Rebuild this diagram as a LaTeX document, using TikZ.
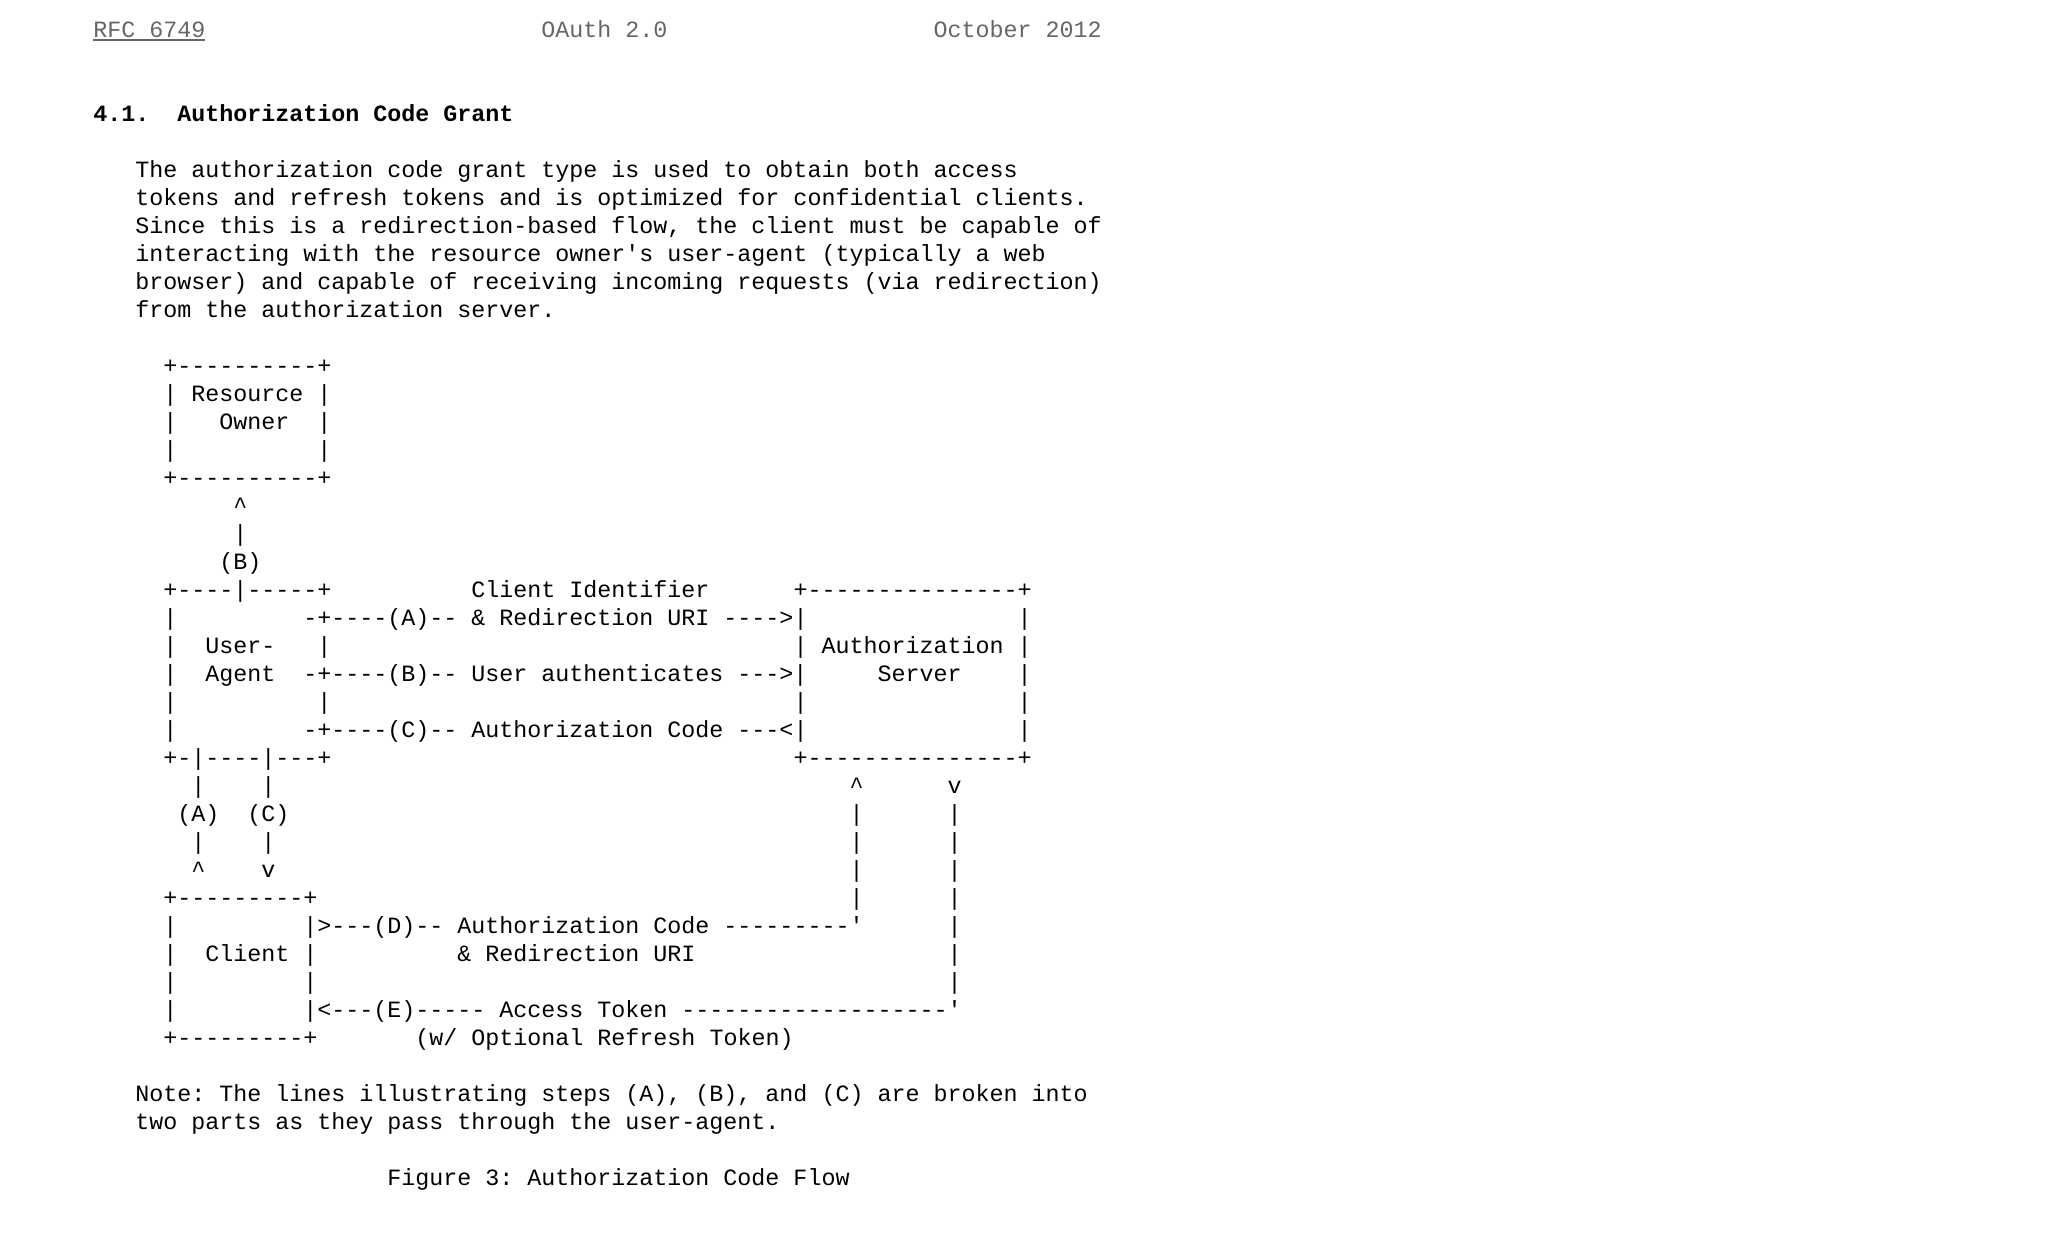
\documentclass[tikz,border=0pt]{standalone}
\usepackage{fontspec}
\setmonofont{Liberation Mono}
\definecolor{hdr}{RGB}{102,102,102}
\newcommand\body{\fontsize{11.67pt}{14pt}\selectfont\ttfamily\frenchspacing}
\newcommand\gap[1]{\hspace*{\dimexpr #1em*3/5\relax}}
\tikzset{
  txt/.style={anchor=base west, inner sep=0pt, outer sep=0pt, font=\body, text=black},
  hdrtxt/.style={txt, text=hdr},
  headtxt/.style={txt, font=\body\bfseries},
  uline/.style={draw=hdr, line width=1pt}
}
\begin{document}
\begin{tikzpicture}[x=7.002pt, y=-14pt]
\useasboundingbox (-46.65pt,18.65pt) rectangle (986.85pt,-609.35pt);
\fill[white] (-46.65pt,18.65pt) rectangle (986.85pt,-609.35pt);
% page header
\node[hdrtxt] (hrfc) at (0,0) {RFC 6749};
\node[hdrtxt] (hoauth) at (32,0) {OAuth 2.0};
\node[hdrtxt] (hdate) at (60,0) {October 2012};
\draw[uline] ([yshift=-1.35pt]hrfc.base west) -- ([yshift=-1.35pt]hrfc.base east);
% section heading
\node[headtxt] (l3) at (0,3) {4.1.\gap{2}Authorization Code Grant};
% paragraph
\node[txt] (l5) at (0,5) {\gap{3}The authorization code grant type is used to obtain both access};
\node[txt] (l6) at (0,6) {\gap{3}tokens and refresh tokens and is optimized for confidential clients.};
\node[txt] (l7) at (0,7) {\gap{3}Since this is a redirection-based flow, the client must be capable of};
\node[txt] (l8) at (0,8) {\gap{3}interacting with the resource owner's user-agent (typically a web};
\node[txt] (l9) at (0,9) {\gap{3}browser) and capable of receiving incoming requests (via redirection)};
\node[txt] (l10) at (0,10) {\gap{3}from the authorization server.};
% figure (ASCII art)
\node[txt] (l12) at (0,12) {\gap{5}+----------+};
\node[txt] (l13) at (0,13) {\gap{5}| Resource |};
\node[txt] (l14) at (0,14) {\gap{5}|\gap{3}Owner\gap{2}|};
\node[txt] (l15) at (0,15) {\gap{5}|\gap{10}|};
\node[txt] (l16) at (0,16) {\gap{5}+----------+};
\node[txt] (l17) at (0,17) {\gap{10}\textasciicircum};
\node[txt] (l18) at (0,18) {\gap{10}|};
\node[txt] (l19) at (0,19) {\gap{9}(B)};
\node[txt] (l20) at (0,20) {\gap{5}+----|-----+\gap{10}Client Identifier\gap{6}+---------------+};
\node[txt] (l21) at (0,21) {\gap{5}|\gap{9}-+----(A)-- \& Redirection URI ---->|\gap{15}|};
\node[txt] (l22) at (0,22) {\gap{5}|\gap{2}User-\gap{3}|\gap{33}| Authorization |};
\node[txt] (l23) at (0,23) {\gap{5}|\gap{2}Agent\gap{2}-+----(B)-- User authenticates --->|\gap{5}Server\gap{4}|};
\node[txt] (l24) at (0,24) {\gap{5}|\gap{10}|\gap{33}|\gap{15}|};
\node[txt] (l25) at (0,25) {\gap{5}|\gap{9}-+----(C)-- Authorization Code ---<|\gap{15}|};
\node[txt] (l26) at (0,26) {\gap{5}+-|----|---+\gap{33}+---------------+};
\node[txt] (l27) at (0,27) {\gap{7}|\gap{4}|\gap{41}\textasciicircum\gap{6}v};
\node[txt] (l28) at (0,28) {\gap{6}(A)\gap{2}(C)\gap{40}|\gap{6}|};
\node[txt] (l29) at (0,29) {\gap{7}|\gap{4}|\gap{41}|\gap{6}|};
\node[txt] (l30) at (0,30) {\gap{7}\textasciicircum\gap{4}v\gap{41}|\gap{6}|};
\node[txt] (l31) at (0,31) {\gap{5}+---------+\gap{38}|\gap{6}|};
\node[txt] (l32) at (0,32) {\gap{5}|\gap{9}|>---(D)-- Authorization Code ---------'\gap{6}|};
\node[txt] (l33) at (0,33) {\gap{5}|\gap{2}Client |\gap{10}\& Redirection URI\gap{18}|};
\node[txt] (l34) at (0,34) {\gap{5}|\gap{9}|\gap{45}|};
\node[txt] (l35) at (0,35) {\gap{5}|\gap{9}|<---(E)----- Access Token -------------------'};
\node[txt] (l36) at (0,36) {\gap{5}+---------+\gap{7}(w/ Optional Refresh Token)};
% note and caption
\node[txt] (l38) at (0,38) {\gap{3}Note: The lines illustrating steps (A), (B), and (C) are broken into};
\node[txt] (l39) at (0,39) {\gap{3}two parts as they pass through the user-agent.};
\node[txt] (l41) at (0,41) {\gap{21}Figure 3: Authorization Code Flow};
\end{tikzpicture}
\end{document}
